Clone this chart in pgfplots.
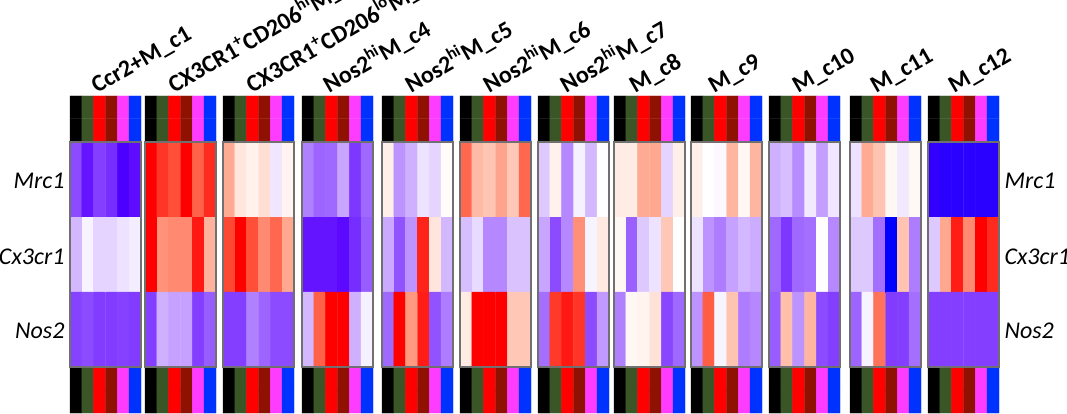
\documentclass[border=0pt]{standalone}
\usepackage{fontspec}
\setmainfont{Carlito}
\usepackage{pgfplots}
\usepackage{pgfplotstable}
\pgfplotsset{compat=1.18}

% expression values: gene g (1 Mrc1, 2 Cx3cr1, 3 Nos2), sample j (1..6), clusters c1..c12
\pgfplotstableread{
g j c1 c2 c3 c4 c5 c6 c7 c8 c9 c10 c11 c12
1 1 -0.50 1.00 0.45 -0.35 0.10 0.70 -0.15 0.12 0.10 -0.22 -0.08 -0.88
1 2 -0.72 0.85 0.15 -0.43 -0.30 0.38 0.08 0.12 0.00 -0.18 0.45 -0.90
1 3 -0.55 0.78 0.08 -0.42 -0.22 0.33 -0.33 0.45 -0.02 -0.32 0.34 -0.90
1 4 -0.62 1.00 0.20 -0.25 -0.08 0.48 -0.04 0.47 0.40 -0.06 0.05 -0.90
1 5 -0.82 0.72 -0.07 -0.58 -0.12 0.32 -0.20 -0.12 0.05 -0.27 -0.06 -0.90
1 6 -0.75 0.88 0.07 -0.42 0.02 0.70 0.00 0.10 0.40 -0.07 0.04 -0.90
2 1 -0.20 1.00 0.80 -0.72 -0.24 -0.18 -0.25 0.05 -0.08 -0.42 -0.15 -0.15
2 2 -0.03 0.55 1.00 -0.72 -0.48 -0.10 -0.50 -0.44 -0.30 -0.58 -0.15 0.47
2 3 -0.12 0.58 0.78 -0.72 -0.30 -0.33 -0.33 -0.15 -0.36 -0.42 -0.40 0.92
2 4 -0.12 0.58 0.58 -0.76 0.90 -0.33 0.56 -0.08 -0.26 -0.40 -1.00 0.58
2 5 -0.08 0.93 0.70 -0.62 0.16 -0.17 -0.03 0.32 -0.20 0.01 0.34 1.00
2 6 -0.05 0.42 0.47 -0.45 -0.20 -0.17 0.14 0.00 -0.23 -0.33 -0.36 0.88
3 1 -0.53 -0.55 -0.55 -0.20 -0.42 0.12 -0.40 -0.35 -0.30 -0.45 -0.43 -0.55
3 2 -0.50 -0.22 -0.55 0.72 1.00 1.00 0.84 0.05 0.74 0.36 -0.03 -0.55
3 3 -0.56 -0.26 -0.35 1.00 0.52 1.00 0.93 0.07 -0.03 -0.30 0.66 -0.55
3 4 -0.56 -0.26 -0.43 1.00 0.92 1.00 0.85 0.18 0.34 0.40 -0.56 -0.55
3 5 -0.54 -0.55 -0.50 -0.22 -0.48 0.32 -0.50 -0.52 -0.36 -0.50 -0.55 -0.55
3 6 -0.56 -0.45 -0.50 -0.04 -0.36 0.32 -0.28 -0.42 -0.33 -0.55 -0.40 -0.55
}\heatdata

% sample annotation bar: sample j, sub-row r, category k
\pgfplotstableread{
j r k
1 1 0
2 1 1
3 1 2
4 1 3
5 1 4
6 1 5
1 2 0
2 2 1
3 2 2
4 2 3
5 2 4
6 2 5
}\bardata

\definecolor{framegray}{RGB}{112,112,112}

\pgfplotsset{base/.style={width=1067pt, height=414pt, scale only axis,
  xmin=0, xmax=1067, ymin=0, ymax=414, y dir=reverse, hide axis, clip=false,
  at={(0pt,0pt)}, anchor=south west}}

\newcommand\bars[1]{%
  \addplot[matrix plot*, mesh/cols=6, point meta=explicit]
    table[x expr=#1+(\thisrow{j}-0.5)*71/6, y expr=96+(\thisrow{r}-0.5)*22.5, meta=k]{\bardata};
  \addplot[matrix plot*, mesh/cols=6, point meta=explicit]
    table[x expr=#1+(\thisrow{j}-0.5)*71/6, y expr=367+(\thisrow{r}-0.5)*23, meta=k]{\bardata};
}
\newcommand\heat[4]{%
  \addplot[matrix plot*, mesh/cols=6, point meta=explicit]
    table[x expr=#1+(\thisrow{j}-0.5)*71/6, y expr=142+(\thisrow{g}-0.5)*75, meta=#2]{\heatdata};
  \draw[framegray, line width=2pt] (axis cs:#1,142) rectangle (axis cs:{#1+71},367);
  \node[rotate=30, anchor=base west, inner sep=0pt, font=\fontsize{24}{28}\selectfont\bfseries]
    at (axis cs:{#1+#3},94) {#4};
}

\begin{document}
\begin{tikzpicture}
\begin{axis}[base, point meta min=0, point meta max=5,
  colormap={cat}{rgb255=(0,0,0) rgb255=(58,85,38) rgb255=(255,0,0) rgb255=(143,17,0) rgb255=(255,60,255) rgb255=(0,50,255)}]
\bars{70}\bars{145}\bars{223}\bars{302}\bars{382}\bars{460}
\bars{538}\bars{614}\bars{691}\bars{769}\bars{850}\bars{928}
\end{axis}
\begin{axis}[base, point meta min=-1, point meta max=1,
  colormap={bwr}{rgb255(0cm)=(0,0,255) rgb255(1cm)=(85,0,255) rgb255(2.5cm)=(140,75,255)
    rgb255(3.75cm)=(200,165,255) rgb255(5cm)=(255,255,255) rgb255(6.25cm)=(255,215,200)
    rgb255(7.5cm)=(255,160,135) rgb255(8.75cm)=(255,90,65) rgb255(10cm)=(255,0,0)}]
\heat{70}{c1}{27}{Ccr2+M\_c1}
\heat{145}{c2}{29}{CX3CR1\textsuperscript{+}CD206\textsuperscript{hi}M\_c2}
\heat{223}{c3}{29}{CX3CR1\textsuperscript{+}CD206\textsuperscript{lo}M\_c3}
\heat{302}{c4}{27}{Nos2\textsuperscript{hi}M\_c4}
\heat{382}{c5}{29}{Nos2\textsuperscript{hi}M\_c5}
\heat{460}{c6}{29}{Nos2\textsuperscript{hi}M\_c6}
\heat{538}{c7}{28}{Nos2\textsuperscript{hi}M\_c7}
\heat{614}{c8}{21}{M\_c8}
\heat{691}{c9}{23}{M\_c9}
\heat{769}{c10}{29}{M\_c10}
\heat{850}{c11}{26}{M\_c11}
\heat{928}{c12}{26}{M\_c12}
\node[anchor=east, font=\fontsize{24}{28}\selectfont\itshape] at (axis cs:68,181) {Mrc1};
\node[anchor=east, font=\fontsize{24}{28}\selectfont\itshape] at (axis cs:68,257) {Cx3cr1};
\node[anchor=east, font=\fontsize{24}{28}\selectfont\itshape] at (axis cs:68,331) {Nos2};
\node[anchor=west, font=\fontsize{24}{28}\selectfont\itshape] at (axis cs:1001,181) {Mrc1};
\node[anchor=west, font=\fontsize{24}{28}\selectfont\itshape] at (axis cs:1001,257) {Cx3cr1};
\node[anchor=west, font=\fontsize{24}{28}\selectfont\itshape] at (axis cs:1001,331) {Nos2};
\end{axis}
\pgfresetboundingbox
\useasboundingbox (0,0) rectangle (1067pt,414pt);
\end{tikzpicture}
\end{document}
